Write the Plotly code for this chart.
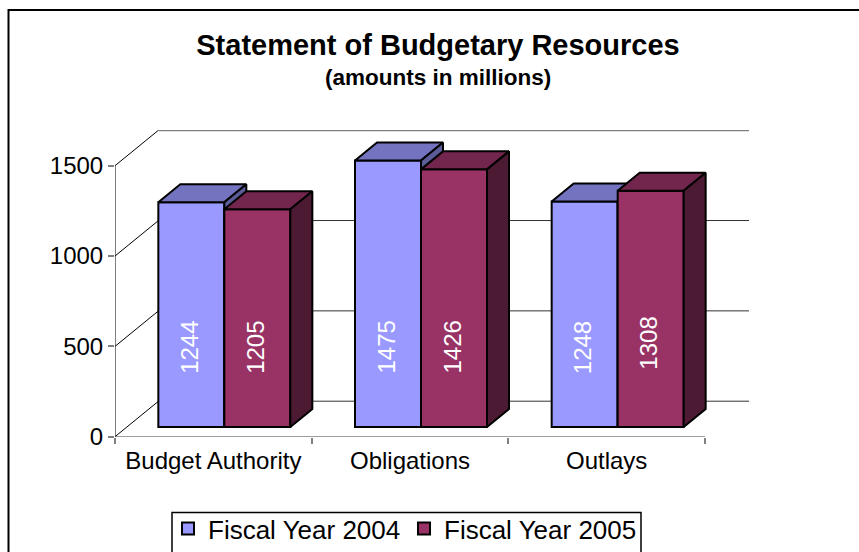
import plotly.graph_objects as go

# Chart data
categories = ["Budget Authority", "Obligations", "Outlays"]
series_names = ["Fiscal Year 2004", "Fiscal Year 2005"]
fy2004 = [1244, 1475, 1248]
fy2005 = [1205, 1426, 1308]
y_ticks = [0, 500, 1000, 1500]

W, H = 859, 552
FONT = "Liberation Sans"

# Pixel extent of the plotting box and the resulting scales
LEFT, RIGHT, BOTTOM, TOP = 115, 749, 436.7, 130
PX_PER_CAT = 196.67
PX_PER_UNIT = 271 / 1500
x_max = (RIGHT - LEFT) / PX_PER_CAT
y_max = (BOTTOM - TOP) / PX_PER_UNIT

# Oblique projection offsets, in data units
wall_dx, wall_dy = 43.5 / PX_PER_CAT, 35.5 / PX_PER_UNIT
box_dx, box_dy = 22 / PX_PER_CAT, 18 / PX_PER_UNIT
floor_dx, floor_dy = 11 / PX_PER_CAT, 9.7 / PX_PER_UNIT
bar_w = 66 / PX_PER_CAT


def faces(values, centers):
    """Outlines of the top and side faces of each box in one series."""
    tx, ty, sx, sy = [], [], [], []
    for c, v in zip(centers, values):
        l, r = c - bar_w / 2, c + bar_w / 2
        top = floor_dy + v
        tx += [l, r, r + box_dx, l + box_dx, l, None]
        ty += [top, top, top + box_dy, top + box_dy, top, None]
        sx += [r, r + box_dx, r + box_dx, r, r, None]
        sy += [floor_dy, floor_dy + box_dy, top + box_dy, top, floor_dy, None]
    return tx, ty, sx, sy


fig = go.Figure()

# Walls: floor, left-hand diagonals and back-wall gridlines
fig.add_trace(go.Scatter(x=[0, 0], y=[0, y_ticks[-1]], mode="lines", showlegend=False,
                         line=dict(color="#000000", width=1), hoverinfo="skip"))
fig.add_trace(go.Scatter(x=[0, len(categories)], y=[0, 0], mode="lines", showlegend=False,
                         line=dict(color="#808080", width=1.5), hoverinfo="skip"))
for t in y_ticks:
    fig.add_trace(go.Scatter(x=[0, wall_dx], y=[t, t + wall_dy], mode="lines", showlegend=False,
                             line=dict(color="#000000", width=1), hoverinfo="skip"))
    is_top = t == y_ticks[-1]
    fig.add_trace(go.Scatter(x=[wall_dx, x_max], y=[t + wall_dy, t + wall_dy], mode="lines",
                             showlegend=False, hoverinfo="skip",
                             line=dict(color="#808080" if is_top else "#333333",
                                       width=2 if is_top else 1)))

# One overlaid subplot per series, so the later series sits in front of the earlier one
series = [
    (series_names[0], fy2004, -bar_w / 2, "#9999FF", "#7373BF", "#5C5C99", "x2", "y2"),
    (series_names[1], fy2005, bar_w / 2, "#993366", "#73264D", "#4D1A33", "x3", "y3"),
]
annotations = []
for name, values, shift, front, top_c, side_c, xa, ya in series:
    centers = [i + 0.5 + floor_dx + shift for i in range(len(values))]
    fig.add_trace(go.Bar(x=centers, y=values, base=floor_dy, width=bar_w, name=name,
                         marker=dict(color=front, line=dict(color="#000000", width=2)),
                         xaxis=xa, yaxis=ya))
    tx, ty, sx, sy = faces(values, centers)
    for fx, fy, col in ((tx, ty, top_c), (sx, sy, side_c)):
        fig.add_trace(go.Scatter(x=fx, y=fy, mode="lines", fill="toself", fillcolor=col,
                                 line=dict(color="#000000", width=2), showlegend=False,
                                 hoverinfo="skip", xaxis=xa, yaxis=ya))
    for c, v in zip(centers, values):
        annotations.append(dict(x=c, y=floor_dy + 440 + (25 if v == 1308 else 0), xshift=-2,
                                xref="x", yref="y", text=str(v), textangle=-90, showarrow=False,
                                font=dict(family=FONT, size=24, color="#FFFFFF")))

annotations.append(dict(x=438 / W, y=1 - 77 / H, xref="paper", yref="paper", yanchor="middle",
                        text="<b>(amounts in millions)</b>", showarrow=False,
                        font=dict(family=FONT, size=22.5, color="#000000")))

tick_x_vals = [i + 0.5 for i in range(len(categories))]
dom_x = [LEFT / W, RIGHT / W]
dom_y = [1 - BOTTOM / H, 1 - TOP / H]
hidden = dict(visible=False, domain=dom_x, range=[0, x_max], fixedrange=True)
hidden_y = dict(visible=False, domain=dom_y, range=[0, y_max], fixedrange=True)

fig.update_layout(
    width=W, height=H, autosize=False,
    margin=dict(l=0, r=0, t=0, b=0, autoexpand=False),
    paper_bgcolor="#FFFFFF", plot_bgcolor="#FFFFFF",
    font=dict(family=FONT, color="#000000"),
    title=dict(text="<b>Statement of Budgetary Resources</b>", x=438 / W, xanchor="center",
               y=1 - 45 / H, yanchor="middle", font=dict(family=FONT, size=29, color="#000000")),
    xaxis=dict(domain=dom_x, range=[0, x_max], tickmode="array", tickvals=tick_x_vals,
               ticktext=categories, ticks="outside", ticklen=2, tickcolor="rgba(0,0,0,0)",
               tickfont=dict(family=FONT, size=24), showgrid=False, zeroline=False, showline=False,
               fixedrange=True,
               minor=dict(tickmode="array", tickvals=list(range(len(categories) + 1)),
                          ticks="outside", ticklen=6, tickcolor="#808080", tickwidth=1.5, showgrid=False)),
    yaxis=dict(domain=dom_y, range=[0, y_max], tickmode="array", tickvals=y_ticks,
               ticks="outside", ticklen=6, tickcolor="#808080", tickwidth=1.5,
               tickfont=dict(family=FONT, size=24), showgrid=False, zeroline=False, showline=False,
               fixedrange=True),
    xaxis2=dict(hidden, overlaying="x", anchor="y2"),
    yaxis2=dict(hidden_y, overlaying="y", anchor="x2"),
    xaxis3=dict(hidden, overlaying="x", anchor="y3"),
    yaxis3=dict(hidden_y, overlaying="y", anchor="x3"),
    legend=dict(orientation="h", x=168 / W, y=0, xanchor="left", yanchor="bottom",
                borderwidth=0, bgcolor="rgba(0,0,0,0)", entrywidth=191, entrywidthmode="pixels",
                font=dict(family=FONT, size=26, color="#000000")),
    annotations=annotations,
    shapes=[
        dict(type="rect", xref="paper", yref="paper", x0=8.5 / W, x1=1.02, y0=-0.02, y1=1 - 10 / H,
             line=dict(color="#000000", width=2), fillcolor="rgba(0,0,0,0)", layer="below"),
        dict(type="rect", xref="paper", yref="paper", x0=172 / W, x1=641 / W, y0=-0.02, y1=1 - 512.5 / H,
             line=dict(color="#000000", width=1.5), fillcolor="#FFFFFF", layer="below"),
    ],
    showlegend=True,
)

fig.write_html("out.html", config=dict(displayModeBar=False))
